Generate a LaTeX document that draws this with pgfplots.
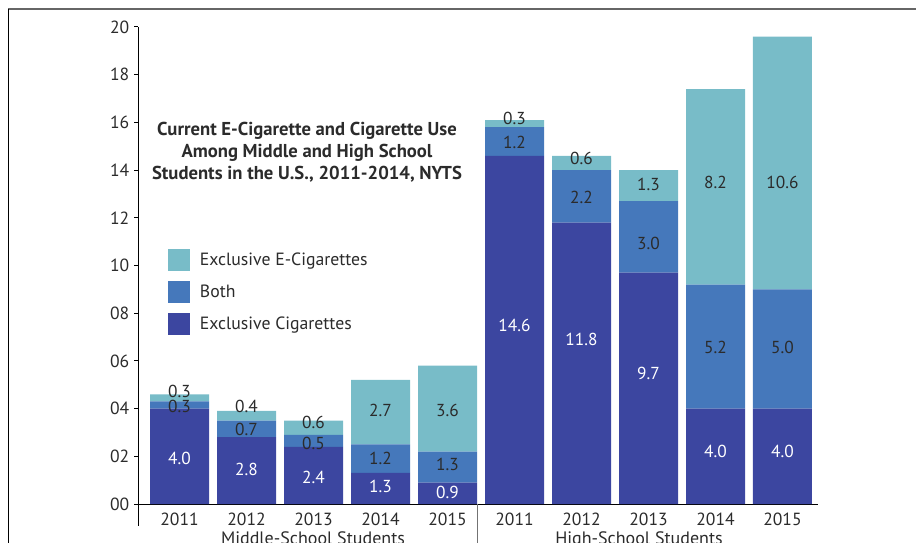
\documentclass[border=0pt]{standalone}
\usepackage{pgfplots}
\pgfplotsset{compat=1.18}
\usepackage{fontspec}
\setmainfont{PT Sans}
\definecolor{cDark}{HTML}{3C46A0}
\definecolor{cMid}{HTML}{4578BB}
\definecolor{cLight}{HTML}{78BCC8}
\definecolor{cText}{HTML}{2B2B2B}
\begin{document}
\begin{tikzpicture}[x=0.75pt,y=0.75pt]
\useasboundingbox (0,0) rectangle (916,542);
\draw[line width=1.5pt, color=black!60] (8,532.5) -- (916,532.5);
\draw[line width=0.75pt, color=black] (8.5,532.5) -- (8.5,-2);
\begin{axis}[
  at={(103.5pt,28.5pt)}, anchor=south west, scale only axis,
  width=510pt, height=357.75pt,
  xmin=-0.62, xmax=9.53, ymin=0, ymax=20,
  ybar stacked, bar width=44.25pt,
  axis lines*=left,
  axis line style={line width=0.75pt, black},
  xtick={0,...,9},
  xticklabels={2011,2012,2013,2014,2015,2011,2012,2013,2014,2015},
  x tick style={draw=none},
  ytick={0,2,...,20},
  yticklabels={00,02,04,06,08,10,12,14,16,18,20},
  tick align=outside, major tick length=3pt,
  y tick style={line width=0.75pt, black},
  tick label style={font=\fontsize{13.2}{15}\selectfont, text=cText},
  xticklabel style={yshift=0pt},
  clip=false,
  legend style={at={(0.0441,0.5346)}, anchor=north west, draw=none, fill=none,
    inner sep=0pt, outer sep=0pt, row sep=7.5pt, column sep=7.5pt,
    font=\fontsize{13.3}{15}\selectfont, text=cText,
    nodes={inner sep=0pt}},
  legend cell align=left,
  reverse legend,
  legend image code/.code={\fill[#1] (0pt,-8.25pt) rectangle (16.5pt,8.25pt);},
]
\addplot[fill=cDark, draw=none] coordinates {(0,4.0) (1,2.8) (2,2.4) (3,1.3) (4,0.9) (5,14.6) (6,11.8) (7,9.7) (8,4.0) (9,4.0)};
\addlegendentry{Exclusive Cigarettes}
\addplot[fill=cMid, draw=none] coordinates {(0,0.3) (1,0.7) (2,0.5) (3,1.2) (4,1.3) (5,1.2) (6,2.2) (7,3.0) (8,5.2) (9,5.0)};
\addlegendentry{Both}
\addplot[fill=cLight, draw=none] coordinates {(0,0.3) (1,0.4) (2,0.6) (3,2.7) (4,3.6) (5,0.3) (6,0.6) (7,1.3) (8,8.2) (9,10.6)};
\addlegendentry{Exclusive E-Cigarettes}
\draw[line width=0.75pt, black] (rel axis cs:0,0) -- ++(0pt,-16.5pt);
\draw[line width=1.1pt, black!55] (axis cs:4.445,0) -- ++(0pt,-40pt);
\end{axis}
\begin{axis}[
  at={(103.5pt,28.5pt)}, anchor=south west, scale only axis,
  width=510pt, height=357.75pt,
  xmin=-0.62, xmax=9.53, ymin=0, ymax=20,
  hide axis, clip=false,
  nodes near coords align=center,
]
\addplot[only marks, mark=none, nodes near coords, point meta=explicit symbolic,
  every node near coord/.append style={anchor=center, text=white, font=\fontsize{13}{15}\selectfont}]
  table[meta=label] {
x y label
0 1.89 4.0
1 1.43 2.8
2 1.13 2.4
3 0.75 1.3
4 0.50 0.9
5 7.50 14.6
6 6.88 11.8
7 5.49 9.7
8 2.22 4.0
9 2.22 4.0
};
\addplot[only marks, mark=none, nodes near coords, point meta=explicit symbolic,
  every node near coord/.append style={anchor=center, text=cText, font=\fontsize{13}{15}\selectfont}]
  table[meta=label] {
x y label
0 4.07 0.3
1 3.14 0.7
2 2.52 0.5
3 1.89 1.2
4 1.64 1.3
5 15.14 1.2
6 12.87 2.2
7 10.94 3.0
8 6.58 5.2
9 6.58 5.0
0 4.74 0.3
1 4.07 0.4
2 3.40 0.6
3 3.94 2.7
4 3.94 3.6
5 16.18 0.3
6 14.47 0.6
7 13.38 1.3
8 13.50 8.2
9 13.50 10.6
};
\end{axis}
\node[anchor=center, align=center, font=\bfseries\fontsize{14}{16.5}\selectfont, text=cText] at (307,390) {Current E-Cigarette and Cigarette Use\\Among Middle and High School\\Students in the U.S., 2011-2014, NYTS};
\node[anchor=north, inner sep=0pt, font=\fontsize{13.5}{15}\selectfont, text=cText] at (313,11) {Middle-School Students};
\node[anchor=north, inner sep=0pt, font=\fontsize{13.5}{15}\selectfont, text=cText] at (639,11) {High-School Students};
\end{tikzpicture}
\end{document}
